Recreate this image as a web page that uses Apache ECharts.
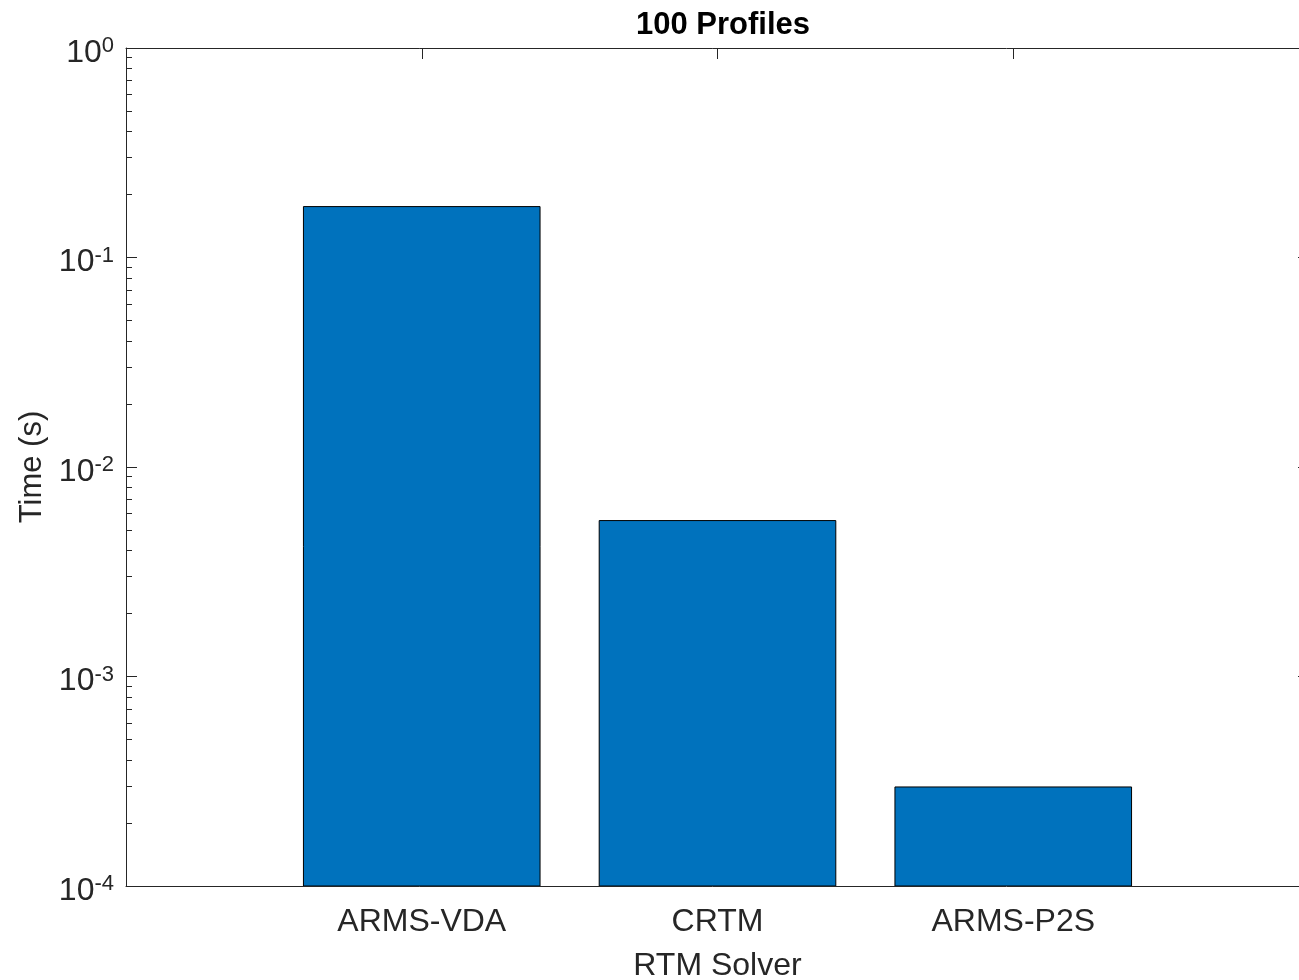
<!DOCTYPE html>
<html>
<head>
<meta charset="utf-8">
<title>100 Profiles</title>
<script src="https://cdn.jsdelivr.net/npm/echarts@6/dist/echarts.min.js"></script>
<style>
  html, body { margin: 0; padding: 0; background: #fff; }
  #chart { width: 1299px; height: 980px; }
</style>
</head>
<body>
<div id="chart"></div>
<script>
// Run time of each radiative transfer solver for 100 profiles (seconds)
const solvers = ['ARMS-VDA', 'CRTM', 'ARMS-P2S'];
const times = [0.175, 0.00555, 0.000297];

// Decade ticks of the log axis and the minor ticks between them
const decadeTicks = [1e-4, 1e-3, 1e-2, 1e-1, 1];
const minorTicks = [
  2e-4, 3e-4, 4e-4, 5e-4, 6e-4, 7e-4, 8e-4, 9e-4,
  2e-3, 3e-3, 4e-3, 5e-3, 6e-3, 7e-3, 8e-3, 9e-3,
  2e-2, 3e-2, 4e-2, 5e-2, 6e-2, 7e-2, 8e-2, 9e-2,
  2e-1, 3e-1, 4e-1, 5e-1, 6e-1, 7e-1, 8e-1, 9e-1
];
const AXIS_MIN = 1e-4;
const AXIS_MAX = 1;

// One empty slot either side so the bars sit at 1, 2, 3 on a 0..4 axis
const slots = [''].concat(solvers, ['']);
const barData = solvers.map((name, i) => [i + 1, times[i]]);

const FONT = '"Liberation Sans", Arial, Helvetica, sans-serif';
const INK = '#262626';

const chart = echarts.init(document.getElementById('chart'), null, { renderer: 'canvas' });

const innerSlot = (i) => i > 0 && i < slots.length - 1;

const xBase = {
  type: 'category',
  data: slots,
  boundaryGap: false,
  axisLine: { show: true, lineStyle: { color: INK, width: 1 } },
  axisTick: { show: true, inside: true, length: 11, interval: innerSlot, lineStyle: { color: INK } },
  splitLine: { show: false }
};

const yBase = {
  type: 'log',
  logBase: 10,
  min: AXIS_MIN,
  max: AXIS_MAX,
  splitLine: { show: false },
  minorSplitLine: { show: false }
};

// Bars rise from the bottom of the log axis up to each solver's time
function renderBar(params, api) {
  const slot = api.value(0);
  const top = api.coord([slot, api.value(1)]);
  const base = api.coord([slot, AXIS_MIN]);
  const w = api.size([1, 0])[0] * 0.8;
  return {
    type: 'rect',
    shape: { x: top[0] - w / 2, y: top[1], width: w, height: base[1] - top[1] },
    style: { fill: '#0072BD', stroke: '#000000', lineWidth: 1 }
  };
}

chart.setOption({
  animation: false,
  backgroundColor: '#ffffff',
  textStyle: { fontFamily: FONT },
  title: {
    text: '100 Profiles',
    left: 718,
    textAlign: 'center',
    top: 5,
    textStyle: { fontFamily: FONT, fontSize: 31, fontWeight: 'bold', color: '#000' }
  },
  grid: { left: 126, top: 48, width: 1183, height: 838, containLabel: false, outerBoundsMode: 'none' },
  xAxis: [
    Object.assign({}, xBase, {
      position: 'bottom',
      axisLabel: {
        show: true, interval: 0, margin: 20,
        fontFamily: FONT, fontSize: 32, color: INK
      },
      name: 'RTM Solver',
      nameLocation: 'middle',
      nameGap: 64,
      nameTextStyle: { fontFamily: FONT, fontSize: 32, color: INK }
    }),
    Object.assign({}, xBase, {
      position: 'top',
      axisLabel: { show: false }
    })
  ],
  yAxis: [
    Object.assign({}, yBase, {
      position: 'left',
      axisLine: { show: true, lineStyle: { color: INK, width: 1 } },
      axisTick: { show: true, inside: true, length: 11, customValues: decadeTicks, lineStyle: { color: INK } },
      axisLabel: {
        show: true,
        customValues: decadeTicks,
        margin: 12,
        padding: [8, 0, 0, 0],
        formatter: (v) => '{b|10}{s|' + Math.round(Math.log10(v)) + '}',
        rich: {
          b: { fontFamily: FONT, fontSize: 32, color: INK, lineHeight: 34, verticalAlign: 'bottom', padding: [16, 0, 0, 0] },
          s: { fontFamily: FONT, fontSize: 22, color: INK, lineHeight: 22, verticalAlign: 'top', padding: [0, 0, 20, 0] }
        }
      },
      name: 'Time (s)',
      nameLocation: 'middle',
      nameGap: 76,
      nameTextStyle: { fontFamily: FONT, fontSize: 31, color: INK }
    }),
    Object.assign({}, yBase, {
      position: 'left',
      axisLine: { show: false },
      axisLabel: { show: false },
      axisTick: { show: true, inside: true, length: 6, customValues: minorTicks, lineStyle: { color: INK } }
    }),
    Object.assign({}, yBase, {
      position: 'right',
      axisLine: { show: true, lineStyle: { color: INK, width: 1 } },
      axisLabel: { show: false },
      axisTick: { show: true, inside: true, length: 11, customValues: decadeTicks, lineStyle: { color: INK } }
    }),
    Object.assign({}, yBase, {
      position: 'right',
      axisLine: { show: false },
      axisLabel: { show: false },
      axisTick: { show: true, inside: true, length: 6, customValues: minorTicks, lineStyle: { color: INK } }
    })
  ],
  series: [{
    type: 'custom',
    xAxisIndex: 0,
    yAxisIndex: 0,
    data: barData,
    encode: { x: 0, y: 1 },
    renderItem: renderBar,
    clip: true,
    emphasis: { disabled: true }
  }]
});
</script>
</body>
</html>
